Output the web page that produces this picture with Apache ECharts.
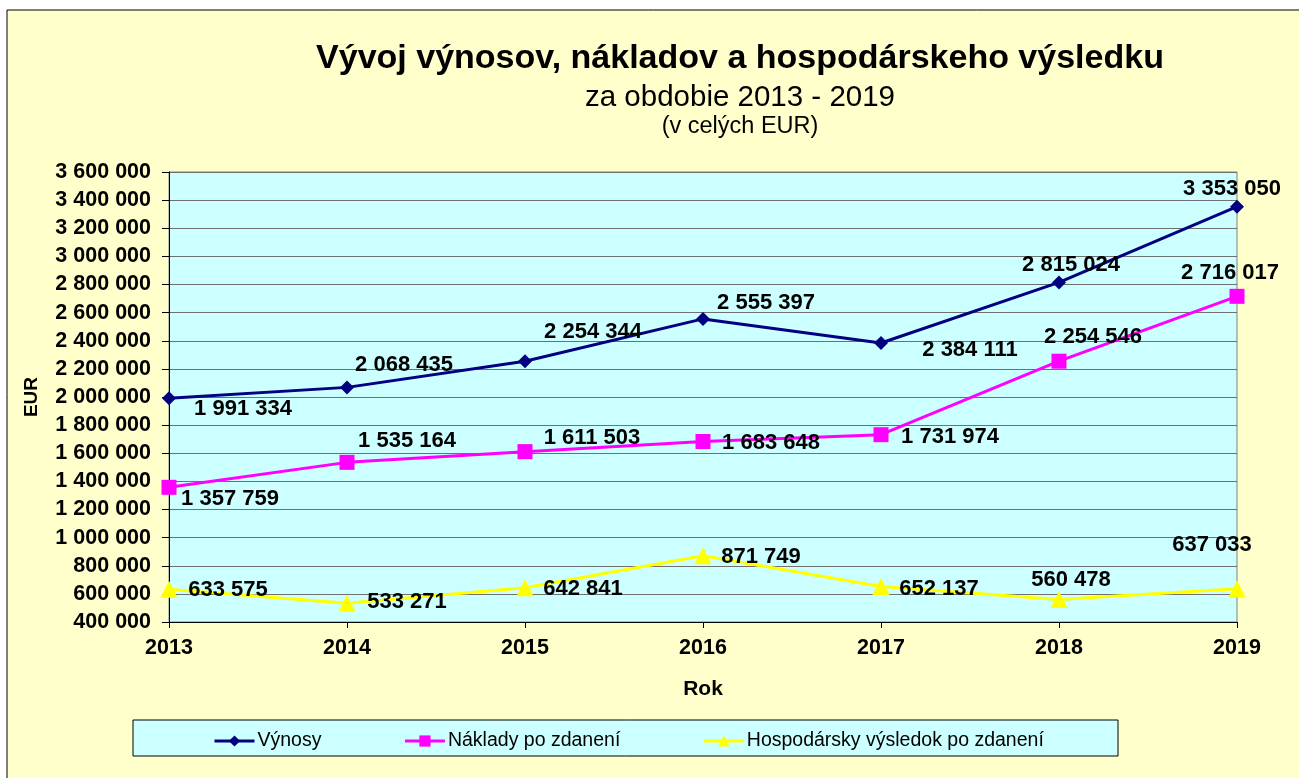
<!DOCTYPE html>
<html>
<head>
<meta charset="utf-8">
<script src="https://cdn.jsdelivr.net/npm/echarts@6/dist/echarts.min.js"></script>
<style>
  html, body { margin: 0; padding: 0; background: #fff; }
  #chart { width: 1299px; height: 778px; }
</style>
</head>
<body>
<div id="chart"></div>
<script>
// data
var years = ['2013', '2014', '2015', '2016', '2017', '2018', '2019'];
var vynosy = [1991334, 2068435, 2254344, 2555397, 2384111, 2815024, 3353050];
var naklady = [1357759, 1535164, 1611503, 1683648, 1731974, 2254546, 2716017];
var hospVysledok = [633575, 533271, 642841, 871749, 652137, 560478, 637033];
var yTicks = { min: 400000, max: 3600000, step: 200000 };

// where each data label sits relative to its point (px)
var offVynosy = [[74, 11], [57, -22], [68, -29], [63, -16], [89, 7], [12, -17], [-5, -18]];
var offNaklady = [[61, 12], [60, -21], [67, -14], [68, 1], [69, 2], [34, -24], [-7, -23]];
var offHosp = [[59, 1], [60, -1], [58, 1], [58, 1], [58, 2], [12, -19], [-25, -44]];

var FONT = 'Arial, "Liberation Sans", sans-serif';

function fmt(v) {
    return String(Math.round(v)).replace(/\B(?=(\d{3})+(?!\d))/g, ' ');
}

function withLabels(vals, offs) {
    return vals.map(function (v, i) {
        return {
            value: v,
            label: { offset: offs[i] }
        };
    });
}

function lineSeries(name, vals, offs, color, symbol, size) {
    return {
        name: name,
        type: 'line',
        data: withLabels(vals, offs),
        symbol: symbol,
        symbolSize: size,
        lineStyle: { color: color, width: 3 },
        itemStyle: { color: color },
        label: {
            show: true,
            position: 'inside',
            color: '#000',
            fontFamily: FONT,
            fontWeight: 'bold',
            fontSize: 22,
            formatter: function (p) { return fmt(p.value); }
        },
        emphasis: { disabled: true },
        animation: false,
        z: 3
    };
}

var myChart = echarts.init(document.getElementById('chart'));

var option = {
    backgroundColor: '#fff',
    animation: false,
    graphic: [
        {
            type: 'rect',
            shape: { x: 7, y: 10, width: 1300, height: 780 },
            style: { fill: '#FFFFCC', stroke: '#000', lineWidth: 1 },
            z: -10
        },
        {
            type: 'rect',
            shape: { x: 133, y: 720, width: 985, height: 36 },
            style: { fill: '#CCFFFF', stroke: '#000', lineWidth: 1 },
            z: -5
        }
    ],
    title: [
        {
            text: 'Vývoj výnosov, nákladov a hospodárskeho výsledku',
            left: 735, top: 37, textAlign: 'center',
            textStyle: { fontFamily: FONT, fontWeight: 'bold', fontSize: 34, color: '#000' }
        },
        {
            text: 'za obdobie 2013 - 2019',
            left: 735, top: 78, textAlign: 'center',
            textStyle: { fontFamily: FONT, fontWeight: 'normal', fontSize: 29.5, color: '#000' }
        },
        {
            text: '(v celých EUR)',
            left: 735, top: 110, textAlign: 'center',
            textStyle: { fontFamily: FONT, fontWeight: 'normal', fontSize: 23.5, color: '#000' }
        }
    ],
    legend: {
        left: 208, top: 726,
        itemWidth: 40, itemHeight: 14,
        itemGap: 82,
        lineStyle: { width: 3 },
        textStyle: { fontFamily: FONT, fontSize: 19.5, color: '#000', padding: [0, 0, 0, -2] },
        data: ['Výnosy', 'Náklady po zdanení', 'Hospodársky výsledok po zdanení']
    },
    grid: {
        left: 169, right: 62, top: 172, bottom: 156,
        show: true,
        backgroundColor: '#CCFFFF',
        borderColor: '#808080',
        borderWidth: 1
    },
    xAxis: {
        type: 'category',
        data: years,
        boundaryGap: false,
        name: 'Rok',
        nameLocation: 'middle',
        nameGap: 57,
        nameTextStyle: { fontFamily: FONT, fontWeight: 'bold', fontSize: 21, color: '#000' },
        axisLine: { lineStyle: { color: '#000', width: 1 } },
        axisTick: { show: true, length: 6, lineStyle: { color: '#000' } },
        axisLabel: { fontFamily: FONT, fontWeight: 'bold', fontSize: 21.5, color: '#000', margin: 15 },
        splitLine: { show: false }
    },
    yAxis: {
        type: 'value',
        min: yTicks.min,
        max: yTicks.max,
        interval: yTicks.step,
        name: 'EUR',
        nameLocation: 'middle',
        nameGap: 128,
        nameTextStyle: { fontFamily: FONT, fontWeight: 'bold', fontSize: 19, color: '#000' },
        axisLine: { show: true, lineStyle: { color: '#000', width: 1 } },
        axisTick: { show: true, length: 7, lineStyle: { color: '#000' } },
        axisLabel: {
            fontFamily: FONT, fontWeight: 'bold', fontSize: 21.5, color: '#000', margin: 18,
            formatter: function (v) { return fmt(v); }
        },
        splitLine: { show: true, lineStyle: { color: '#707070', width: 1 } }
    },
    series: [
        lineSeries('Výnosy', vynosy, offVynosy, '#000080', 'diamond', 14),
        lineSeries('Náklady po zdanení', naklady, offNaklady, '#FF00FF', 'rect', 15),
        lineSeries('Hospodársky výsledok po zdanení', hospVysledok, offHosp, '#FFFF00', 'triangle', 17)
    ]
};

myChart.setOption(option);
</script>
</body>
</html>
